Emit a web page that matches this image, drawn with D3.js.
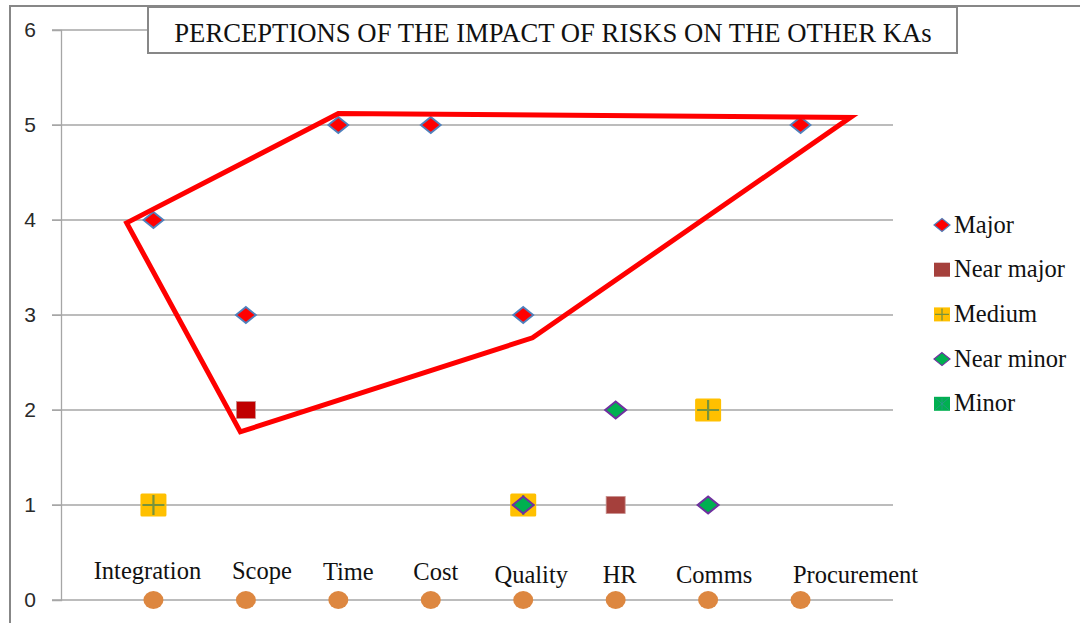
<!DOCTYPE html>
<html>
<head>
<meta charset="utf-8">
<script src="https://cdn.jsdelivr.net/npm/d3@7"></script>
<style>
  body { margin: 0; background: #fff; }
  svg { display: block; }
</style>
</head>
<body>
<svg id="chart" width="1080" height="623"></svg>
<script>
// knowledge areas, placed at x = 1..8
const categories = ['Integration', 'Scope', 'Time', 'Cost', 'Quality', 'HR', 'Comms', 'Procurement'];
const yTicks = [0, 1, 2, 3, 4, 5, 6];
const seriesNames = ['Major', 'Near major', 'Medium', 'Near minor', 'Minor'];

// [category, rating]
const major = [['Integration', 4], ['Scope', 3], ['Time', 5], ['Cost', 5], ['Quality', 3], ['Procurement', 5]];
const nearMajor = [['Scope', 2], ['HR', 1]];
const medium = [['Integration', 1], ['Quality', 1], ['Comms', 2]];
const nearMinor = [['HR', 2], ['Quality', 1], ['Comms', 1]];
const minor = [];
// the label series sits on the zero line
const labelRow = categories.map(c => [c, 0]);

// hand drawn outline round the "major" group, in data units
const outline = [[0.71, 3.97], [3.0, 5.12], [8.54, 5.08], [5.1, 2.76], [1.94, 1.77]];

const title = 'PERCEPTIONS OF THE IMPACT OF RISKS ON THE OTHER KAs';

// layout / style
const colors = {major: '#ff0000', majorEdge: '#4f81bd', nearMajor: '#a5403c', scopeNearMajor: '#c00000',
                medium: '#ffc000', mediumCross: '#77933c', nearMinor: '#00b050', nearMinorEdge: '#7030a0',
                minor: '#00b050', dot: '#dd8740', grid: '#a6a6a6'};
const labelShift = {Integration: -6, Scope: 16, Time: 10, Cost: 5, Quality: 8, HR: 4, Comms: 6, Procurement: 55};
const labelDrop = {Integration: 0, Scope: 0, Time: 1, Cost: 1, Quality: 4, HR: 4, Comms: 4, Procurement: 4};
const serif = 'Liberation Serif, Times New Roman, serif';

const svg = d3.select('#chart');
const x = d3.scaleLinear().domain([0, 9]).range([61, 893]);
const y = d3.scaleLinear().domain([0, 6]).range([600, 30]);
const catX = c => x(categories.indexOf(c) + 1);

function diamond(w, h) {
  const p = d3.path();
  p.moveTo(0, -h / 2); p.lineTo(w / 2, 0); p.lineTo(0, h / 2); p.lineTo(-w / 2, 0); p.closePath();
  return p.toString();
}

// outer frame
svg.append('rect').attr('x', 10).attr('y', 6).attr('width', 1100).attr('height', 700)
  .attr('fill', 'none').attr('stroke', '#878787').attr('stroke-width', 2);

// grid
svg.append('g').selectAll('line').data(yTicks).join('line')
  .attr('x1', 52).attr('x2', x.range()[1])
  .attr('y1', d => y(d)).attr('y2', d => y(d))
  .attr('stroke', colors.grid).attr('stroke-width', 1.3);

// y axis
const yAxis = svg.append('g').attr('transform', `translate(${x.range()[0]},0)`)
  .call(d3.axisLeft(y).tickValues(yTicks).tickFormat(d3.format('d')).tickSize(9).tickPadding(16));
yAxis.attr('font-size', null).attr('font-family', null);
yAxis.select('.domain').attr('stroke', colors.grid).attr('stroke-width', 1.3);
yAxis.selectAll('.tick line').attr('stroke', colors.grid);
yAxis.selectAll('.tick text')
  .style('font-family', 'Liberation Sans, Arial, sans-serif')
  .style('font-size', '21px').attr('fill', '#2a2a2a');

const plot = svg.append('g');

// label series: dots on zero line + category names
plot.selectAll('ellipse.dot').data(labelRow).join('ellipse').attr('class', 'dot')
  .attr('cx', d => catX(d[0])).attr('cy', d => y(d[1])).attr('rx', 10).attr('ry', 9)
  .attr('fill', colors.dot);
plot.selectAll('text.cat').data(labelRow).join('text').attr('class', 'cat')
  .attr('x', d => catX(d[0]) + labelShift[d[0]])
  .attr('y', d => y(d[1]) - 21 + labelDrop[d[0]])
  .attr('text-anchor', 'middle')
  .attr('font-family', serif).attr('font-size', 24.5)
  .attr('fill', '#111').text(d => d[0]);

// major
plot.selectAll('path.major').data(major).join('path').attr('class', 'major')
  .attr('transform', d => `translate(${catX(d[0])},${y(d[1])})`)
  .attr('d', diamond(20, 16)).attr('fill', colors.major)
  .attr('stroke', colors.majorEdge).attr('stroke-width', 1.8);

// near major
plot.selectAll('rect.nmaj').data(nearMajor).join('rect').attr('class', 'nmaj')
  .attr('x', d => catX(d[0]) - 9.5).attr('y', d => y(d[1]) - 8.5)
  .attr('width', 19).attr('height', 17)
  .attr('fill', d => d[0] === 'Scope' ? colors.scopeNearMajor : colors.nearMajor)
  .attr('stroke', '#c9908e').attr('stroke-width', 0.8);

// medium
const med = plot.selectAll('g.med').data(medium).join('g').attr('class', 'med')
  .attr('transform', d => `translate(${catX(d[0])},${y(d[1])})`);
med.append('rect').attr('x', -13).attr('y', -11.5).attr('width', 26).attr('height', 23)
  .attr('fill', colors.medium).attr('rx', 1.5);
med.append('path').attr('d', 'M-11,0H11M0,-10V10')
  .attr('stroke', colors.mediumCross).attr('stroke-width', 2.2);

// near minor
plot.selectAll('path.nmin').data(nearMinor).join('path').attr('class', 'nmin')
  .attr('transform', d => `translate(${catX(d[0])},${y(d[1])})`)
  .attr('d', diamond(21, 17)).attr('fill', colors.nearMinor)
  .attr('stroke', colors.nearMinorEdge).attr('stroke-width', 2);

// minor (no points)
plot.selectAll('rect.minor').data(minor).join('rect').attr('class', 'minor')
  .attr('x', d => catX(d[0]) - 9).attr('y', d => y(d[1]) - 8)
  .attr('width', 18).attr('height', 16).attr('fill', colors.minor);

// outline
svg.append('path')
  .attr('d', d3.line().x(d => x(d[0])).y(d => y(d[1]))(outline) + 'Z')
  .attr('fill', 'none').attr('stroke', '#ff0000').attr('stroke-width', 5)
  .attr('stroke-linejoin', 'miter');

// title box
svg.append('rect').attr('x', 148).attr('y', 7).attr('width', 809).attr('height', 46)
  .attr('fill', '#fff').attr('stroke', '#878787').attr('stroke-width', 2);
svg.append('text').attr('x', 553).attr('y', 42).attr('text-anchor', 'middle')
  .attr('font-family', serif).attr('font-size', 26.7)
  .attr('fill', '#111').text(title);

// legend
const legend = svg.append('g').attr('transform', 'translate(942,225)');
const item = legend.selectAll('g').data(seriesNames).join('g')
  .attr('transform', (d, i) => `translate(0,${i * 44.7})`);
item.each(function(name) {
  const g = d3.select(this);
  if (name === 'Major') {
    g.append('path').attr('d', diamond(16, 13)).attr('fill', colors.major)
      .attr('stroke', colors.majorEdge).attr('stroke-width', 1.2);
  } else if (name === 'Near major') {
    g.append('rect').attr('x', -8).attr('y', -7).attr('width', 16).attr('height', 14)
      .attr('fill', colors.nearMajor);
  } else if (name === 'Medium') {
    g.append('rect').attr('x', -8).attr('y', -7).attr('width', 16).attr('height', 14)
      .attr('fill', colors.medium);
    g.append('path').attr('d', 'M-7,0H7M0,-6V6').attr('stroke', colors.mediumCross).attr('stroke-width', 1.3);
  } else if (name === 'Near minor') {
    g.append('path').attr('d', diamond(16, 13)).attr('fill', colors.nearMinor)
      .attr('stroke', colors.nearMinorEdge).attr('stroke-width', 1.2);
  } else {
    g.append('rect').attr('x', -8).attr('y', -7).attr('width', 16).attr('height', 14)
      .attr('fill', colors.minor);
    g.append('path').attr('d', 'M-7,-6L7,6M-7,6L7,-6M0,-6V6').attr('stroke', '#4f81bd')
      .attr('stroke-width', 0.6).attr('opacity', 0.7);
  }
  g.append('text').attr('x', 12).attr('y', 7.5)
    .attr('font-family', serif).attr('font-size', 24.5)
    .attr('fill', '#111').text(name);
});
</script>
</body>
</html>
